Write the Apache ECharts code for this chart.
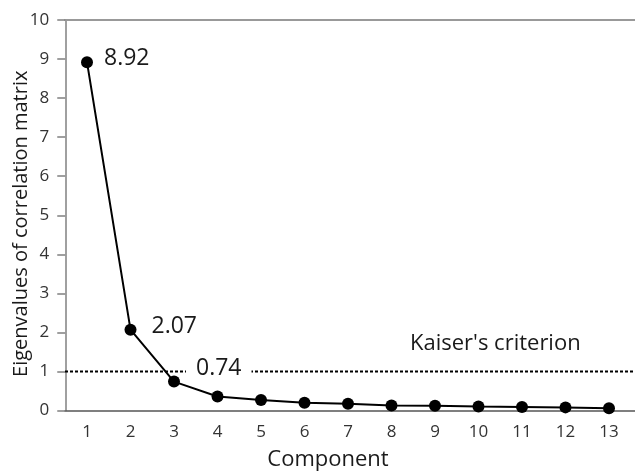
<!DOCTYPE html>
<html>
<head>
<meta charset="utf-8">
<script src="https://cdn.jsdelivr.net/npm/echarts@6/dist/echarts.min.js"></script>
<style>
html,body{margin:0;padding:0;background:#fff;}
#chart{width:635px;height:471px;}
</style>
</head>
<body>
<div id="chart"></div>
<script>
// ---- data ----
const components = ['1','2','3','4','5','6','7','8','9','10','11','12','13'];
const eigenvalues = [8.92, 2.07, 0.74, 0.36, 0.27, 0.20, 0.17, 0.13, 0.12, 0.10, 0.09, 0.08, 0.06];
const labeledIdx = [0, 1, 2];
const kaiserValue = 1;
const kaiserText = "Kaiser's criterion";
const yTitle = 'Eigenvalues of correlation matrix';
const xTitle = 'Component';

const FONT = 'Open Sans';
const labelStyles = {
  0: {offset: [6, -4]},
  1: {offset: [10, -3]},
  2: {offset: [1, -13], backgroundColor: '#fff', padding: [0, 10, 0, 10]}
};
const seriesData = eigenvalues.map((v, i) => {
  if (labeledIdx.indexOf(i) >= 0) {
    return {
      value: v,
      label: Object.assign({
        show: true, position: 'right', distance: 5,
        formatter: (p) => p.value.toFixed(2),
        fontFamily: FONT, fontSize: 23, color: '#1a1a1a'
      }, labelStyles[i])
    };
  }
  return v;
});

const chart = echarts.init(document.getElementById('chart'), null, {renderer: 'canvas'});
chart.setOption({
  animation: false,
  backgroundColor: '#fff',
  grid: [
    {left: 65.25, right: 4.25, top: 20, bottom: 60.5, containLabel: false, outerBoundsMode: 'none'},
    {left: 65, right: 0, top: 20, bottom: 60.5, containLabel: false, outerBoundsMode: 'none'}
  ],
  xAxis: [
    {
      type: 'category', gridIndex: 0, data: components, boundaryGap: true,
      axisLine: {show: false}, axisTick: {show: false},
      axisLabel: {fontFamily: FONT, fontSize: 17, color: '#333', margin: 13},
      name: xTitle, nameLocation: 'middle', nameGap: 38, nameMoveOverlap: false,
      nameTextStyle: {fontFamily: FONT, fontSize: 22, color: '#1a1a1a', padding: [0, 40, 0, 0]}
    },
    {
      type: 'value', gridIndex: 1, min: 0, max: 1, position: 'bottom',
      axisLine: {show: true, lineStyle: {color: '#555', width: 1.5}},
      axisTick: {show: false}, axisLabel: {show: false}, splitLine: {show: false}
    },
    {
      type: 'value', gridIndex: 1, min: 0, max: 1, position: 'top',
      axisLine: {show: true, lineStyle: {color: '#999', width: 2}},
      axisTick: {show: false}, axisLabel: {show: false}, splitLine: {show: false}
    }
  ],
  yAxis: [
    {
      type: 'value', gridIndex: 0, min: 0, max: 10, interval: 1,
      axisLine: {show: true, lineStyle: {color: '#808080', width: 1.5}},
      axisTick: {show: true, length: 8, lineStyle: {color: '#808080', width: 1.5}},
      axisLabel: {fontFamily: FONT, fontSize: 17, color: '#333', margin: 16},
      splitLine: {show: false},
      name: yTitle, nameLocation: 'middle', nameGap: 34, nameMoveOverlap: false,
      nameTextStyle: {fontFamily: FONT, fontSize: 20, color: '#1a1a1a', padding: [0, 17, 0, 0]}
    },
    {
      type: 'value', gridIndex: 1, min: 0, max: 10,
      axisLine: {show: false}, axisTick: {show: false}, axisLabel: {show: false},
      splitLine: {show: false}
    }
  ],
  series: [
    {
      type: 'line', xAxisIndex: 1, yAxisIndex: 1, z: 1,
      data: [[0, kaiserValue], [1, kaiserValue]],
      symbol: 'none', silent: true,
      lineStyle: {color: '#000', width: 2, type: [3, 2]}
    },
    {
      type: 'line', xAxisIndex: 0, yAxisIndex: 0, z: 5,
      data: seriesData,
      symbol: 'circle', symbolSize: 12,
      itemStyle: {color: '#000'},
      lineStyle: {color: '#000', width: 2}
    }
  ],
  graphic: [
    {
      type: 'text', left: 410, top: 333, z: 10,
      style: {text: kaiserText, fontFamily: FONT, fontSize: 22, fill: '#1a1a1a'}
    }
  ]
});
</script>
</body>
</html>
